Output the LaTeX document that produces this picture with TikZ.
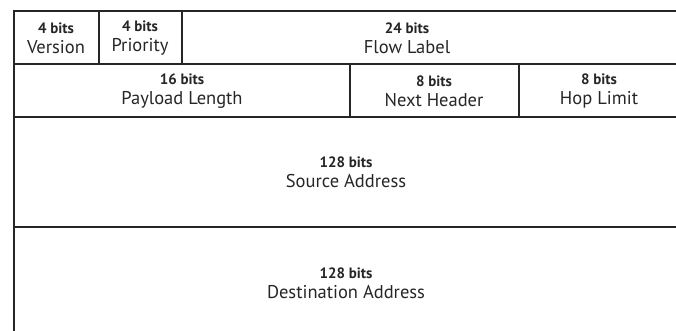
\documentclass[tikz,border=0pt]{standalone}
\usepackage{fontspec}
\setmainfont{PT Sans}
\newcommand{\fieldtext}[2]{{\bfseries\fontsize{15}{20}\selectfont #1}\\#2}
\begin{document}
\begin{tikzpicture}[x=1pt,y=-1pt,
  rule/.style={line width=1.6pt,draw=black!85},
  field/.style={align=center,inner sep=0pt,text=black!85,
    font=\fontsize{18.5}{20}\selectfont}]
\useasboundingbox (0,0) rectangle (676,331);
% outer frame: open at the right and bottom
\draw[rule] (676,11) -- (14,11) -- (14,331);
% row separators
\draw[rule] (14,64) -- (676,64);
\draw[rule] (14,117) -- (676,117);
\draw[rule] (14,227) -- (676,227);
% column separators
\draw[rule] (99,11) -- (99,64);
\draw[rule] (182,11) -- (182,64);
\draw[rule] (350,64) -- (350,117);
\draw[rule] (519,64) -- (519,117);
% field labels
\node[field] (version)  at (56,38)   {\fieldtext{4 bits}{Version}};
\node[field] (priority) at (140,38)  {\fieldtext{4 bits}{Priority}};
\node[field] (flow)     at (407,38)  {\fieldtext{24 bits}{Flow Label}};
\node[field] (payload)  at (182,91)  {\fieldtext{16 bits}{Payload Length}};
\node[field] (next)     at (434,91)  {\fieldtext{8 bits}{Next Header}};
\node[field] (hop)      at (599,91)  {\fieldtext{8 bits}{Hop Limit}};
\node[field] (src)      at (346,172) {\fieldtext{128 bits}{Source Address}};
\node[field] (dst)      at (346,283) {\fieldtext{128 bits}{Destination Address}};
\end{tikzpicture}
\end{document}
